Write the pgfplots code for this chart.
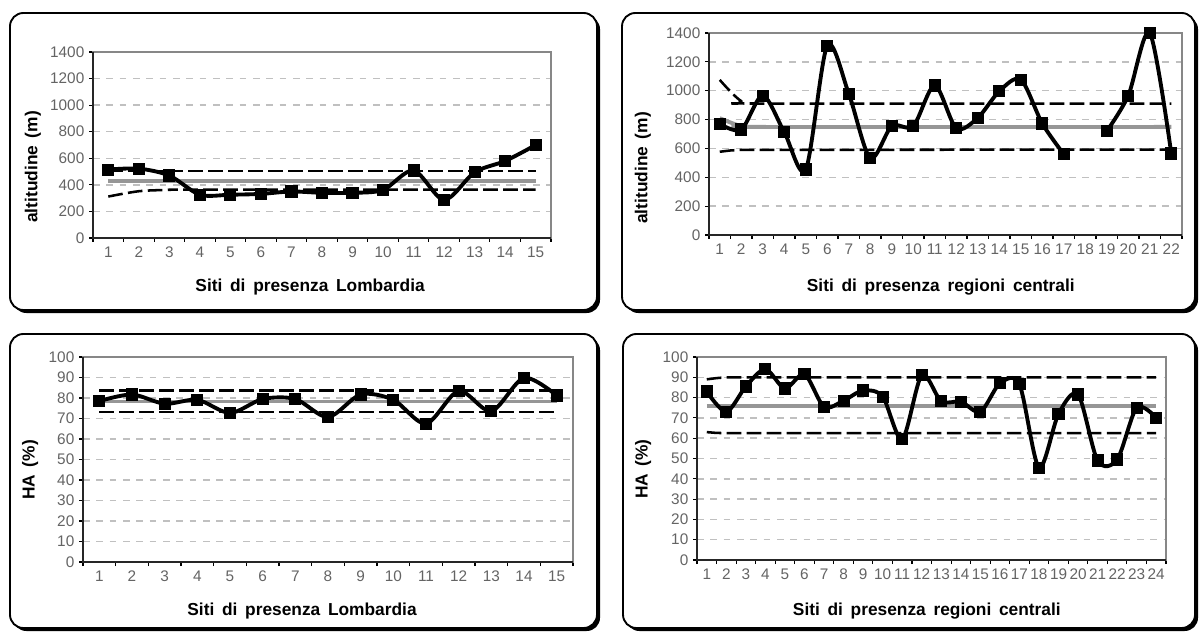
\documentclass[border=0pt]{standalone}
\usepackage{fontspec}
\setmainfont{Liberation Sans}
\newfontfamily\lblfont[WordSpace=1.6]{Liberation Sans}
\usepackage{pgfplots}
\pgfplotsset{compat=1.18}

\definecolor{gridgray}{RGB}{192,192,192}
\definecolor{meangray}{RGB}{150,150,150}
\definecolor{ticktext}{RGB}{100,100,100}
\definecolor{boxgray}{RGB}{135,135,135}

\pgfplotsset{
  panel/.style={
    scale only axis,
    anchor=south west,
    axis line style={draw=boxgray, line width=0.9pt},
    tick align=outside,
    tick pos=left,
    ymajorgrids,
    grid style={gridgray, line width=1.1pt, dash pattern=on 5pt off 5pt},
    major y tick style={black, line width=0.8pt},
    major tick length=3pt,
    major x tick style={draw=none},
    minor x tick style={black, line width=0.8pt},
    minor tick length=3pt,
    ticklabel style={font=\fontsize{11.5}{12}\selectfont, text=ticktext},
    /pgf/number format/assume math mode=true,
    /pgf/number format/1000 sep={},
    label style={font=\lblfont\bfseries\fontsize{13}{15}\selectfont},
    xlabel style={anchor=center},
    ylabel style={anchor=center},
    clip=false,
  },
  datline/.style={black, line width=2.9pt, smooth, tension=0.5,
    mark=square*, mark size=3.1pt, mark options={solid}},
  meanline/.style={meangray, line width=2.9pt, smooth, tension=0.5},
  sdline/.style={black, line width=1.9pt, dash pattern=on 11pt off 4pt,
    smooth, tension=0.5},
  sdflat/.style={black, line width=1.9pt, dash pattern=on 11pt off 4pt},
}

% rounded frame with a drop shadow (pixel coordinates of the reference)
\newcommand{\panel}[4]{%
  \fill[black, rounded corners=10pt] ({(#1+3)*0.75pt},{-(#2+3)*0.75pt})
    rectangle ({(#3+3)*0.75pt},{-(#4+3)*0.75pt});
  \draw[black, line width=1.4pt, fill=white, rounded corners=10pt]
    ({#1*0.75pt},{-#2*0.75pt}) rectangle ({#3*0.75pt},{-#4*0.75pt});}

\begin{document}
\begin{tikzpicture}
\useasboundingbox (0,0) rectangle (900.75pt,-475.5pt);
\panel{10}{13}{597}{310}
\panel{622}{13}{1195}{310}
\panel{10}{334}{597}{628}
\panel{623}{334}{1195}{628}

% ---- altitude, Lombardia
\begin{axis}[panel, at={(69.75pt,-178.5pt)}, width=343.5pt, height=139.5pt,
  xmin=0.5, xmax=15.5, ymin=0, ymax=1400,
  xtick={1,...,15}, minor xtick={0.5,1.5,...,15.5},
  ytick={0,200,...,1400},
  xlabel={Siti di presenza Lombardia}, ylabel={altitudine (m)},
  xlabel style={at={(axis description cs:0.474,-0.263)}},
  ylabel style={at={(axis description cs:-0.131,0.382)}},
]
\addplot[meanline] coordinates {(1,428) (15,428)};
\addplot[sdflat] coordinates {(1,505) (15,505)};
\addplot[sdline] coordinates {(1,312) (2,352) (3,362) (4,364) (15,364)};
\addplot[datline] coordinates {
  (1,515) (2,522) (3,470) (4,326) (5,326) (6,332) (7,350) (8,340)
  (9,340) (10,362) (11,508) (12,287) (13,495) (14,580) (15,700)};
\draw[black!85, line width=0.9pt] (rel axis cs:0,1) -- (rel axis cs:0,0) -- (rel axis cs:1,0);
\end{axis}

% ---- altitude, regioni centrali
\begin{axis}[panel, at={(531.75pt,-176.25pt)}, width=354.75pt, height=151.5pt,
  xmin=0.5, xmax=22.5, ymin=0, ymax=1400,
  xtick={1,...,22}, minor xtick={0.5,1.5,...,22.5},
  ytick={0,200,...,1400},
  xlabel={Siti di presenza regioni centrali}, ylabel={altitudine (m)},
  xlabel style={at={(axis description cs:0.49,-0.257)}},
  ylabel style={at={(axis description cs:-0.140,0.332)}},
]
\addplot[meanline] coordinates {(1,810) (2,755) (3,749) (22,749)};
\addplot[sdline] coordinates {(1,1075) (2,928) (3,911) (22,911)};
\addplot[sdflat] coordinates {(1,577) (1.5,586) (2,590) (22,592)};
\addplot[datline] coordinates {
  (1,770) (2,731) (3,966) (4,713) (5,454) (6,1312) (7,980) (8,533)
  (9,754) (10,755) (11,1036) (12,740) (13,812) (14,996) (15,1077)
  (16,773) (17,560)};
\addplot[datline] coordinates {(19,720) (20,966) (21,1400) (22,565)};
\draw[black!85, line width=0.9pt] (rel axis cs:0,1) -- (rel axis cs:0,0) -- (rel axis cs:1,0);
\end{axis}

% ---- HA, Lombardia
\begin{axis}[panel, at={(62.25pt,-421.5pt)}, width=367.5pt, height=153.75pt,
  xmin=0.5, xmax=15.5, ymin=0, ymax=100,
  xtick={1,...,15}, minor xtick={0.5,1.5,...,15.5},
  ytick={0,10,...,100},
  xlabel={Siti di presenza Lombardia}, ylabel={HA (\%)},
  xlabel style={at={(axis description cs:0.447,-0.239)}},
  ylabel style={at={(axis description cs:-0.108,0.449)}},
]
\addplot[meanline] coordinates {(1,78.3) (15,78.3)};
\addplot[sdflat] coordinates {(1,83.7) (15,83.7)};
\addplot[sdflat] coordinates {(1,73.1) (15,73.1)};
\addplot[datline] coordinates {
  (1,78.5) (2,81.7) (3,77.2) (4,79.1) (5,72.7) (6,79.5) (7,79.5) (8,70.7)
  (9,81.7) (10,79.1) (11,67.5) (12,83.4) (13,73.6) (14,89.8) (15,81.2)};
\draw[black!85, line width=0.9pt] (rel axis cs:0,1) -- (rel axis cs:0,0) -- (rel axis cs:1,0);
\end{axis}

% ---- HA, regioni centrali
\begin{axis}[panel, at={(522.75pt,-420pt)}, width=351.75pt, height=152.25pt,
  xmin=0.5, xmax=24.5, ymin=0, ymax=100,
  xtick={1,...,24}, minor xtick={0.5,1.5,...,24.5},
  ytick={0,10,...,100},
  xlabel={Siti di presenza regioni centrali}, ylabel={HA (\%)},
  xlabel style={at={(axis description cs:0.49,-0.251)}},
  ylabel style={at={(axis description cs:-0.115,0.448)}},
]
\addplot[meanline] coordinates {(1,76) (24,76)};
\addplot[sdflat] coordinates {(1,89) (1.5,89.6) (2,90) (24,90)};
\addplot[sdflat] coordinates {(1,63) (1.5,62.6) (2,62.5) (24,62.5)};
\addplot[datline] coordinates {
  (1,83) (2,73) (3,85.5) (4,94) (5,84.5) (6,91.5) (7,75.5) (8,78.5)
  (9,83.5) (10,80.5) (11,59.5) (12,91) (13,78.2) (14,78) (15,73)
  (16,87) (17,86.5) (18,45.5) (19,72) (20,81.5) (21,49) (22,49.5)
  (23,75) (24,70)};
\draw[black!85, line width=0.9pt] (rel axis cs:0,1) -- (rel axis cs:0,0) -- (rel axis cs:1,0);
\end{axis}
\end{tikzpicture}
\end{document}
